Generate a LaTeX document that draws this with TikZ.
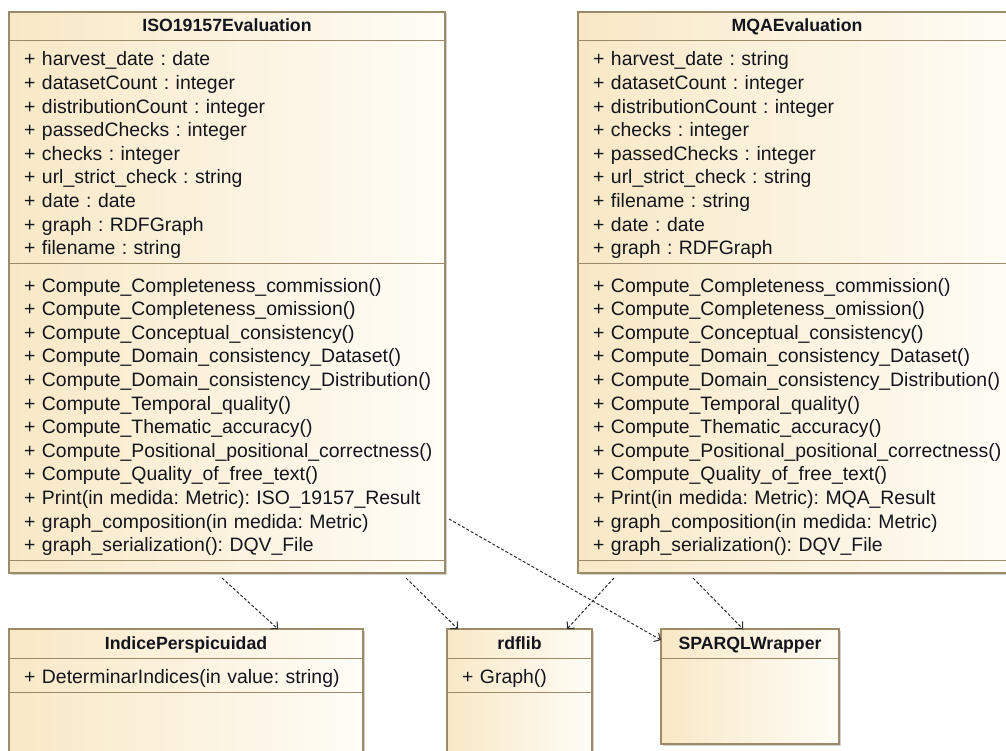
\documentclass[tikz,border=0pt]{standalone}
\usepackage{fontspec}
\setmainfont{Liberation Sans}
\usepackage{tikz}
\usetikzlibrary{calc}
\usetikzlibrary{arrows.meta}
\usetikzlibrary{shadows}
\frenchspacing

\definecolor{umlborder}{RGB}{156,139,104}
\definecolor{umlfillL}{RGB}{248,232,198}
\definecolor{umlfillR}{RGB}{255,253,247}
\definecolor{umltext}{RGB}{20,20,30}
\definecolor{deparrow}{RGB}{45,45,45}

\tikzstyle{classbox} = [rectangle, 
draw=umlborder, line width=1.3pt, 
left color=umlfillL, right color=umlfillR, 
inner sep=0pt, outer sep=0pt, anchor=north west, 
drop shadow={shadow xshift=1.5pt, shadow yshift=-1.5pt, opacity=0.3, fill=black!60}]
\tikzstyle{classline} = [draw=umlborder, line width=1pt]
\tikzstyle{classname} = [font=\fontsize{17.7}{21}\selectfont\bfseries, text=umltext, anchor=base, inner sep=0pt]
\tikzstyle{members} = [font=\fontsize{19.4}{23.6}\selectfont, text=umltext, anchor=base west, inner sep=0pt, text width=425pt, align=left]
\tikzstyle{dep} = [deparrow, line width=1pt, dash pattern=on 3pt off 2pt, -{Straight Barb[length=5pt,width=10pt]}]

\begin{document}
\begin{tikzpicture}[x=1pt,y=-1pt]
    \useasboundingbox (0,0) rectangle (1006,751);
    \fill[white] (0,0) rectangle (1006,751);
    \clip (0,0) rectangle (1006,751);

    % ISO 19157 class
    \node[classbox, minimum width=436pt, minimum height=561pt] (iso) at (9,12) {};
    \draw[classline] ([yshift=-29pt]iso.north west) -- ([yshift=-29pt]iso.north east);
    \draw[classline] ([yshift=-252pt]iso.north west) -- ([yshift=-252pt]iso.north east);
    \draw[classline] ([yshift=-548pt]iso.north west) -- ([yshift=-548pt]iso.north east);
    \node[classname] (isoName) at ($(iso.north)+(0,20)$) {ISO19157Evaluation};
    \node[members] (isoAttr) at ($(iso.north west)+(15,54)$) {+ harvest\_date : date\\
        + datasetCount : integer\\
        + distributionCount : integer\\
        + passedChecks : integer\\
        + checks : integer\\
        + url\_strict\_check : string\\
        + date : date\\
        + graph : RDFGraph\\
        + filename : string};
    \node[members] (isoOps) at ($(iso.north west)+(15,280)$) {+ Compute\_Completeness\_commission()\\
        + Compute\_Completeness\_omission()\\
        + Compute\_Conceptual\_consistency()\\
        + Compute\_Domain\_consistency\_Dataset()\\
        + Compute\_Domain\_consistency\_Distribution()\\
        + Compute\_Temporal\_quality()\\
        + Compute\_Thematic\_accuracy()\\
        + Compute\_Positional\_positional\_correctness()\\
        + Compute\_Quality\_of\_free\_text()\\
        + Print(in medida: Metric): ISO\_19157\_Result\\
        + graph\_composition(in medida: Metric)\\
        + graph\_serialization(): DQV\_File};

    % MQA class
    \node[classbox, minimum width=438pt, minimum height=561pt] (mqa) at (578,12) {};
    \draw[classline] ([yshift=-29pt]mqa.north west) -- ([yshift=-29pt]mqa.north east);
    \draw[classline] ([yshift=-252pt]mqa.north west) -- ([yshift=-252pt]mqa.north east);
    \draw[classline] ([yshift=-548pt]mqa.north west) -- ([yshift=-548pt]mqa.north east);
    \node[classname] (mqaName) at ($(mqa.north)+(0,20)$) {MQAEvaluation};
    \node[members] (mqaAttr) at ($(mqa.north west)+(15,54)$) {+ harvest\_date : string\\
        + datasetCount : integer\\
        + distributionCount : integer\\
        + checks : integer\\
        + passedChecks : integer\\
        + url\_strict\_check : string\\
        + filename : string\\
        + date : date\\
        + graph : RDFGraph};
    \node[members] (mqaOps) at ($(mqa.north west)+(15,280)$) {+ Compute\_Completeness\_commission()\\
        + Compute\_Completeness\_omission()\\
        + Compute\_Conceptual\_consistency()\\
        + Compute\_Domain\_consistency\_Dataset()\\
        + Compute\_Domain\_consistency\_Distribution()\\
        + Compute\_Temporal\_quality()\\
        + Compute\_Thematic\_accuracy()\\
        + Compute\_Positional\_positional\_correctness()\\
        + Compute\_Quality\_of\_free\_text()\\
        + Print(in medida: Metric): MQA\_Result\\
        + graph\_composition(in medida: Metric)\\
        + graph\_serialization(): DQV\_File};

    % library classes
    \node[classbox, minimum width=354pt, minimum height=170pt] (indice) at (9,629) {};
    \draw[classline] ([yshift=-29pt]indice.north west) -- ([yshift=-29pt]indice.north east);
    \draw[classline] ([yshift=-63pt]indice.north west) -- ([yshift=-63pt]indice.north east);
    \node[classname] (indiceName) at ($(indice.north)+(0,20)$) {IndicePerspicuidad};
    \node[members] (indiceOps) at ($(indice.north west)+(15,54)$) {+ DeterminarIndices(in value: string)};

    \node[classbox, minimum width=145pt, minimum height=170pt] (rdflib) at (447,629) {};
    \draw[classline] ([yshift=-29pt]rdflib.north west) -- ([yshift=-29pt]rdflib.north east);
    \draw[classline] ([yshift=-63pt]rdflib.north west) -- ([yshift=-63pt]rdflib.north east);
    \node[classname] (rdflibName) at ($(rdflib.north)+(0,20)$) {rdflib};
    \node[members] (rdflibOps) at ($(rdflib.north west)+(15,54)$) {+ Graph()};

    \node[classbox, minimum width=178pt, minimum height=115pt] (sparql) at (661,629) {};
    \draw[classline] ([yshift=-29pt]sparql.north west) -- ([yshift=-29pt]sparql.north east);
    \node[classname] (sparqlName) at ($(sparql.north)+(0,20)$) {SPARQLWrapper};

    % dependencies
    \draw[dep] ([xshift=213pt,yshift=-5pt]iso.south west) -- ([xshift=269pt]indice.north west);
    \draw[dep] ([xshift=397pt,yshift=-5pt]iso.south west) -- ([xshift=11pt]rdflib.north west);
    \draw[dep] ([xshift=4pt,yshift=54pt]iso.south east) -- ([yshift=-11pt]sparql.north west);
    \draw[dep] ([xshift=36pt,yshift=-5pt]mqa.south west) -- ([xshift=120pt]rdflib.north west);
    \draw[dep] ([xshift=115pt,yshift=-5pt]mqa.south west) -- ([xshift=82pt]sparql.north west);
\end{tikzpicture}
\end{document}
